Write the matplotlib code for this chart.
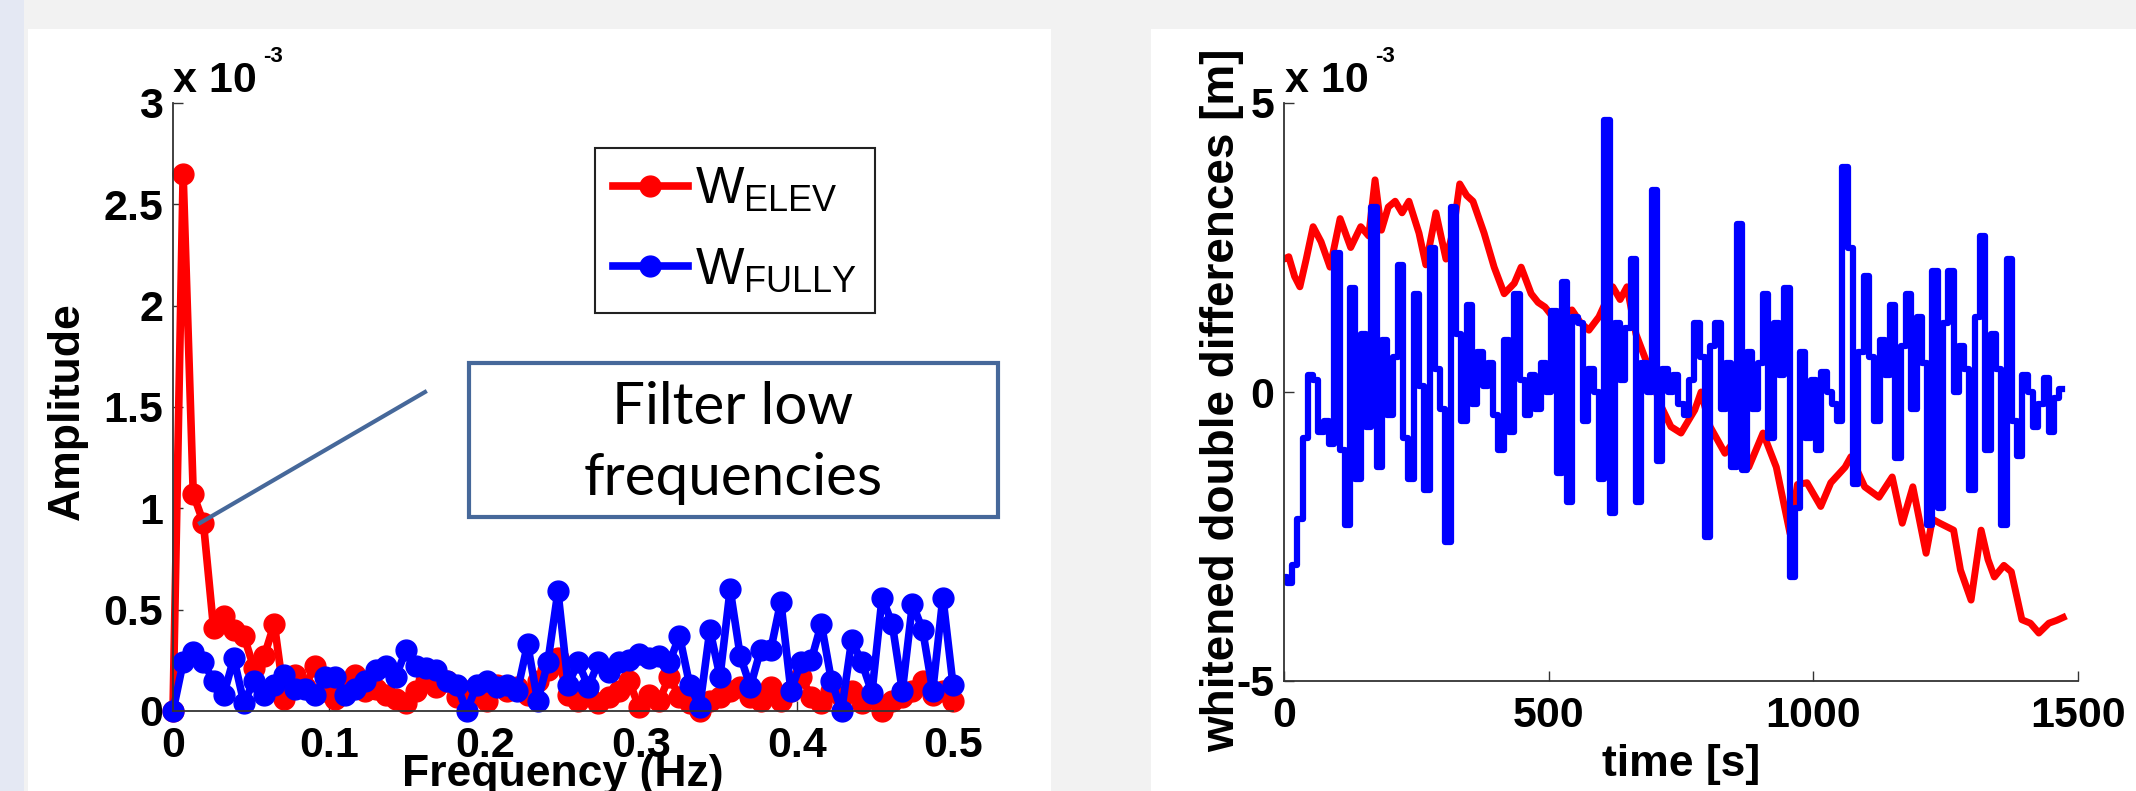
import numpy as np
import matplotlib
matplotlib.use("Agg")
import matplotlib.pyplot as plt
from matplotlib.patches import Rectangle
from matplotlib.lines import Line2D

W, H = 2136, 791

# ---- left panel: amplitude spectra (x 1e-3) ----
N_FREQ = 78
F_MAX = 0.5
amp_elev = [0.0, 2.65, 1.07, 0.93, 0.41, 0.47, 0.40, 0.37, 0.21, 0.27,
            0.43, 0.06, 0.18, 0.12, 0.22, 0.10, 0.06, 0.12, 0.18, 0.10,
            0.11, 0.08, 0.06, 0.04, 0.10, 0.15, 0.12, 0.15, 0.07, 0.10,
            0.08, 0.05, 0.13, 0.10, 0.12, 0.08, 0.15, 0.20, 0.26, 0.08,
            0.05, 0.08, 0.04, 0.07, 0.10, 0.15, 0.02, 0.08, 0.05, 0.17,
            0.07, 0.04, 0.00, 0.05, 0.07, 0.10, 0.12, 0.07, 0.05, 0.12,
            0.05, 0.10, 0.17, 0.07, 0.04, 0.10, 0.07, 0.10, 0.04, 0.07,
            0.00, 0.05, 0.07, 0.10, 0.15, 0.08, 0.10, 0.05]
amp_fully = [0.0, 0.24, 0.29, 0.24, 0.15, 0.08, 0.26, 0.04, 0.15, 0.08,
             0.13, 0.18, 0.11, 0.11, 0.08, 0.17, 0.17, 0.08, 0.11, 0.15,
             0.20, 0.22, 0.17, 0.30, 0.22, 0.21, 0.20, 0.15, 0.13, 0.00,
             0.13, 0.15, 0.12, 0.13, 0.10, 0.33, 0.05, 0.24, 0.59, 0.13,
             0.24, 0.12, 0.24, 0.19, 0.24, 0.25, 0.28, 0.26, 0.27, 0.24,
             0.37, 0.13, 0.02, 0.40, 0.17, 0.60, 0.27, 0.12, 0.30, 0.30,
             0.54, 0.10, 0.24, 0.25, 0.43, 0.15, 0.00, 0.35, 0.24, 0.09,
             0.56, 0.43, 0.10, 0.53, 0.40, 0.10, 0.56, 0.13]
freq = np.arange(N_FREQ) * F_MAX / (N_FREQ - 1)

# ---- right panel: whitened double differences (x 1e-3 m) ----
t_elev = [0, 9, 20, 30, 42, 55, 70, 87, 106, 126, 145, 160, 172, 184, 197,
          210, 223, 236, 255, 268, 287, 306, 320, 332, 345, 357, 378, 397,
          416, 435, 448, 467, 480, 493, 512, 528, 544, 560, 576, 595, 621,
          635, 648, 665, 690, 710, 731, 750, 776, 788, 805, 833, 855, 878,
          905, 930, 956, 970, 988, 1014, 1033, 1060, 1071, 1097, 1124, 1149,
          1168, 1188, 1213, 1225, 1239, 1265, 1278, 1298, 1317, 1330, 1342,
          1360, 1374, 1394, 1410, 1426, 1445, 1460, 1472]
dd_elev = [2.3, 2.34, 2.0, 1.82, 2.3, 2.86, 2.6, 2.16, 3.0, 2.5, 2.86, 2.7,
           3.67, 2.8, 3.2, 3.3, 3.1, 3.3, 2.75, 2.2, 3.1, 2.3, 2.8, 3.6, 3.4,
           3.3, 2.75, 2.16, 1.7, 1.88, 2.16, 1.7, 1.55, 1.47, 1.25, 1.35,
           1.42, 1.2, 1.07, 1.3, 1.82, 1.6, 1.82, 1.0, 0.4, -0.2, -0.6,
           -0.71, -0.31, 0.0, -0.6, -1.06, -0.8, -1.3, -0.71, -1.3, -2.45,
           -1.6, -1.57, -1.98, -1.57, -1.3, -1.12, -1.64, -1.82, -1.47,
           -2.27, -1.64, -2.79, -2.2, -2.27, -2.39, -3.08, -3.6, -2.39, -2.9,
           -3.2, -3.0, -3.11, -3.94, -4.0, -4.17, -4.0, -3.95, -3.9]
T_STEP = 10
dd_fully = [-3.2, -3.3, -3.0, -2.2, -0.8, 0.3, 0.2, -0.7, -0.5, -0.9,
            2.4, -1.0, -2.3, 1.8, -1.5, 1.0, -0.6, 3.2, -1.3, 0.9,
            -0.4, 0.6, 2.2, -0.8, -1.5, 1.7, 0.1, -1.7, 2.5, 0.4,
            -0.3, -2.6, 3.2, 1.0, -0.5, 1.5, -0.2, 0.7, 0.1, 0.5,
            -0.4, -1.0, 0.9, -0.7, 1.7, 0.2, -0.4, 0.3, -0.3, 0.5,
            0.0, 1.4, -1.4, 1.9, -1.9, 1.3, 1.2, -0.5, 0.4, 0.0,
            -1.5, 4.7, -2.1, 1.2, 0.2, 1.1, 2.3, -1.9, 0.5, 0.0,
            3.5, -1.2, 0.4, 0.0, 0.3, -0.2, -0.4, 0.2, 1.2, 0.6,
            -2.5, 0.8, 1.2, -0.3, 0.5, -1.3, 2.9, -1.35, 0.7, -0.3,
            0.5, 1.7, -0.8, 1.2, 0.3, 1.8, -3.2, -2.0, 0.7, -0.8,
            0.2, -1.0, 0.35, 0.0, -0.2, -0.5, 3.9, 2.5, -1.6, 0.7,
            2.0, 0.6, -0.5, 0.9, 0.3, 1.5, -1.15, 0.8, 1.7, -0.3,
            1.3, 0.5, -2.3, 2.1, -2.0, 1.2, 2.1, 0.0, 0.8, 0.4,
            -1.7, 1.3, 2.7, -1.0, 1.0, 0.4, -2.3, 2.3, -0.5, -1.1,
            0.3, 0.0, -0.6, -0.2, 0.25, -0.7, -0.1, 0.05]
t_fully = np.arange(len(dd_fully)) * T_STEP

amp_ticks = [0, 0.5, 1, 1.5, 2, 2.5, 3]
amp_labels = ['0', '0.5', '1', '1.5', '2', '2.5', '3']
freq_ticks = [0, 0.1, 0.2, 0.3, 0.4, 0.5]
freq_labels = ['0', '0.1', '0.2', '0.3', '0.4', '0.5']
dd_ticks = [-5, 0, 5]
dd_labels = ['-5', '0', '5']
time_ticks = [0, 500, 1000, 1500]
time_labels = ['0', '500', '1000', '1500']

RED = '#ff0000'
BLUE = '#0000ff'
NOTE = '#46689a'

plt.rcParams['font.family'] = ['Liberation Sans', 'DejaVu Sans']
plt.rcParams['font.weight'] = 'bold'
plt.rcParams['mathtext.fontset'] = 'custom'
plt.rcParams['mathtext.rm'] = 'Liberation Sans:normal'


def px(x, y):
    return x / W, 1 - y / H


def style_axes(ax):
    ax.patch.set_visible(False)
    for s in ('top', 'right'):
        ax.spines[s].set_visible(False)
    for s in ('left', 'bottom'):
        ax.spines[s].set_linewidth(1.3)
        ax.spines[s].set_color('#333333')
    ax.tick_params(direction='in', length=7, width=1, color='#333333',
                   labelsize=31)
    ax.tick_params(axis='x', pad=11)
    ax.tick_params(axis='y', pad=7)


fig = plt.figure(figsize=(W / 100, H / 100), dpi=100)
fig.patch.set_facecolor('#f2f2f2')
fig.add_artist(Rectangle((0, 0), 24 / W, 1, transform=fig.transFigure,
                         facecolor='#e4e8f3', edgecolor='none', zorder=-10))
for x0, x1 in ((28, 1051), (1151, W)):
    fig.add_artist(Rectangle(px(x0, H), (x1 - x0) / W, 1 - 29 / H,
                             transform=fig.transFigure, facecolor='white',
                             edgecolor='none', zorder=-10))

# left axes
ax1 = fig.add_axes([173 / W, 1 - 711 / H, 780 / W, 608 / H])
ax1.plot(freq, amp_elev, '-o', color=RED, lw=5.5, ms=15, clip_on=False,
         label=r'$\mathrm{W_{ELEV}}$')
ax1.plot(freq, amp_fully, '-o', color=BLUE, lw=5.5, ms=15, clip_on=False,
         label=r'$\mathrm{W_{FULLY}}$')
ax1.set_xlim(0, 0.5)
ax1.set_ylim(0, 3)
ax1.set_xticks(freq_ticks, freq_labels)
ax1.set_yticks(amp_ticks, amp_labels)
style_axes(ax1)
ax1.set_xlabel('Frequency (Hz)', fontsize=32, fontweight='bold', va='top')
ax1.xaxis.set_label_coords(0.5, -0.071)
ax1.set_ylabel('Amplitude', fontsize=32, fontweight='bold', va='center')
ax1.yaxis.set_label_coords(-0.135, 0.493)
leg = ax1.legend(loc='upper left', bbox_to_anchor=px(595, 148),
                 bbox_transform=fig.transFigure, fontsize=37, frameon=True,
                 fancybox=False, edgecolor='#222222', framealpha=1,
                 borderaxespad=0, borderpad=0.35, handlelength=1.45,
                 handletextpad=0.15, labelspacing=0.6)
leg.get_frame().set_linewidth(1.5)

# right axes
ax2 = fig.add_axes([1284 / W, 1 - 681 / H, 794 / W, 578 / H])
ax2.plot(t_elev, dd_elev, '-', color=RED, lw=5)
ax2.plot(t_fully, dd_fully, '-', color=BLUE, lw=4.5, drawstyle='steps-mid')
ax2.set_xlim(0, 1500)
ax2.set_ylim(-5, 5)
ax2.set_xticks(time_ticks, time_labels)
ax2.set_yticks(dd_ticks, dd_labels)
style_axes(ax2)
ax2.set_xlabel('time [s]', fontsize=32, fontweight='bold', va='top')
ax2.xaxis.set_label_coords(0.5, -0.109)
ax2.set_ylabel('whitened double differences [m]', fontsize=33,
               fontweight='bold', va='center')
ax2.yaxis.set_label_coords(-0.078, 0.486)

# exponent labels
for x_main, x_sup in ((173, 263), (1285, 1375)):
    fig.text(*px(x_main, 92), 'x 10', fontsize=31, va='baseline')
    fig.text(*px(x_sup, 62), '-3', fontsize=16, va='baseline')

# callout
fig.add_artist(Line2D([200 / W, 425 / W], [1 - 523 / H, 1 - 392 / H],
                      transform=fig.transFigure, color=NOTE, lw=3, zorder=5))
fig.add_artist(Rectangle(px(469, 517), (998 - 469) / W, (517 - 363) / H,
                         transform=fig.transFigure, facecolor='white',
                         edgecolor=NOTE, lw=3, zorder=5))
fig.text(*px(733, 443), 'Filter low\nfrequencies', fontsize=42,
         family='Lato', weight='normal', ha='center', va='center',
         linespacing=1.4, zorder=6)

fig.savefig('out.png', dpi=100, facecolor=fig.get_facecolor())
